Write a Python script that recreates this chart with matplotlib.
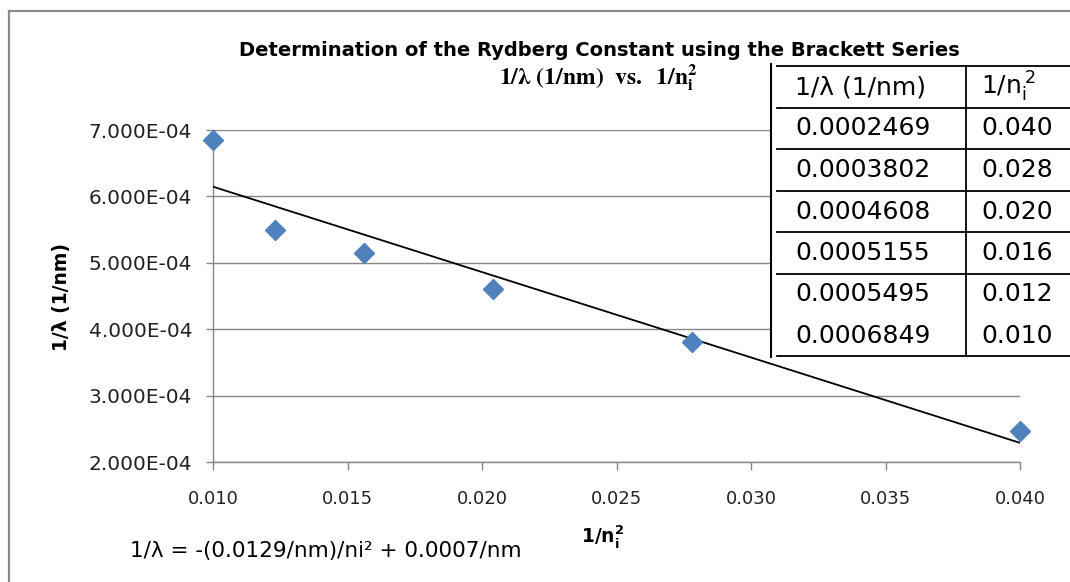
import numpy as np
import matplotlib
matplotlib.use("Agg")
import matplotlib.pyplot as plt
import matplotlib.patches as patches

# Brackett series lines (n_i -> 4): 1/n_i^2 and measured 1/lambda
inv_n2 = [0.0400, 0.0278, 0.0204, 0.0156, 0.0123, 0.0100]
inv_lambda = [0.0002469, 0.0003802, 0.0004608, 0.0005155, 0.0005495, 0.0006849]

y_ticks = [2.0e-4, 3.0e-4, 4.0e-4, 5.0e-4, 6.0e-4, 7.0e-4]
x_ticks = [0.010, 0.015, 0.020, 0.025, 0.030, 0.035, 0.040]

BLUE = "#4f81bd"
GRID = "#868686"

W, H = 1070, 582
fig = plt.figure(figsize=(W / 100, H / 100), dpi=100)
fig.patch.set_facecolor("white")

ax = fig.add_axes([213 / W, 1 - 462 / H, (1020 - 213) / W, (462 - 130) / H])
ax.set_xlim(0.010, 0.040)
ax.set_ylim(2.0e-4, 7.0e-4)

# linear fit for the trendline
slope, intercept = np.polyfit(inv_n2, inv_lambda, 1)
xf = np.array([min(inv_n2), max(inv_n2)])
ax.plot(xf, slope * xf + intercept, color="black", lw=1.3, zorder=3)
ax.plot(inv_n2, inv_lambda, linestyle="none", marker="D", ms=10.5,
        color=BLUE, mec=BLUE, zorder=4, clip_on=False)

ax.set_yticks(y_ticks)
ax.set_yticklabels([f"{v:.3E}" for v in y_ticks])
ax.set_xticks(x_ticks)
ax.set_xticklabels([f"{v:.3f}" for v in x_ticks])
ax.yaxis.grid(True, color=GRID, lw=1.0)
ax.set_axisbelow(True)
for side in ("top", "right"):
    ax.spines[side].set_visible(False)
for side in ("left", "bottom"):
    ax.spines[side].set_color(GRID)
    ax.spines[side].set_linewidth(1.0)
ax.tick_params(axis="y", direction="out", length=5, width=1.0, color=GRID,
               labelsize=14.5, pad=10, labelcolor="#222222")
ax.tick_params(axis="x", direction="out", length=6, width=1.0, color=GRID,
               labelsize=13, pad=14, labelcolor="#222222")

# overlay in pixel coordinates for border, titles and the data table
ov = fig.add_axes([0, 0, 1, 1], zorder=5)
ov.set_xlim(0, W)
ov.set_ylim(H, 0)
ov.axis("off")
ov.patch.set_alpha(0)

ov.plot([9, 9], [11, H], color="#8c8c8c", lw=1.6)
ov.plot([9, W], [11, 11], color="#8c8c8c", lw=1.6)

ov.text(599, 50, "Determination of the Rydberg Constant using the Brackett Series",
        ha="center", va="center", fontsize=14, fontweight="bold")
ov.text(598, 78, r"$\mathbf{1/λ\ (1/nm)\ \ vs.\ \ 1/n_i^2}$", ha="center",
        va="center", fontsize=17, math_fontfamily="stix")
ov.text(62, 297, "1/λ (1/nm)", rotation=90, ha="center", va="center",
        fontsize=13.5, fontweight="bold")
ov.text(603, 537, r"$\mathbf{1/n_i^2}$", ha="center", va="center", fontsize=13.5)
ov.text(130, 551, f"1/λ = -({-slope:.4f}/nm)/ni² + {intercept:.4f}/nm",
        ha="left", va="center", fontsize=15.5)

# data table
tx0, tx1, tsep = 771, W, 966
row_lines = [66, 108, 149, 191, 232, 274, 356]
ov.add_patch(patches.Rectangle((tx0, 62), tx1 - tx0, 296, facecolor="white",
                               edgecolor="none"))
ov.plot([tx0, tx0], [64, 357], color="black", lw=1.5)
ov.plot([tsep, tsep], [row_lines[0], row_lines[-1]], color="black", lw=1.3)
for yl in row_lines:
    ov.plot([777, tx1], [yl, yl], color="black", lw=1.3)

row_centers = [87, 128, 170, 212, 253, 294, 336]
ov.text(795, row_centers[0], "1/λ (1/nm)", ha="left", va="center", fontsize=18)
ov.text(981, row_centers[0], r"$\mathrm{1/n_i^{\,2}}$", ha="left", va="center",
        fontsize=18)
for yc, lam, xv in zip(row_centers[1:], inv_lambda, inv_n2):
    ov.text(795, yc, f"{lam:.7f}", ha="left", va="center", fontsize=18)
    ov.text(981, yc, f"{xv:.3f}", ha="left", va="center", fontsize=18)

fig.savefig("out.png", dpi=100)
